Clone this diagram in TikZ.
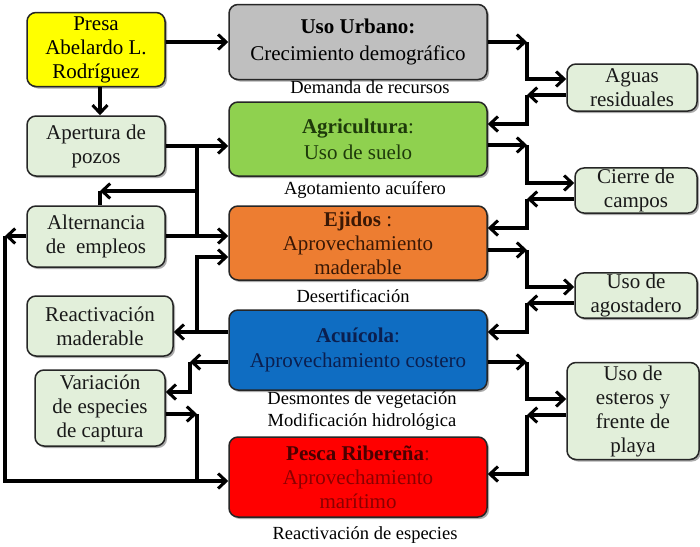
\documentclass[tikz,border=0pt]{standalone}
\usepackage{fontspec}
\setmainfont{Liberation Serif}
\usetikzlibrary{arrows.meta,shadows}
\definecolor{cgray}{HTML}{BFBFBF}
\definecolor{cgreen}{HTML}{8FD14F}
\definecolor{corange}{HTML}{ED7D31}
\definecolor{cblue}{HTML}{0F6DC2}
\definecolor{cred}{HTML}{FF0000}
\definecolor{cyellow}{HTML}{FFFF00}
\definecolor{clight}{HTML}{E2EFDA}
\definecolor{tgreen}{HTML}{1E3A0A}
\definecolor{tbrown}{HTML}{3A1805}
\definecolor{tnavy}{HTML}{0B1F4F}
\definecolor{tdred}{HTML}{4A0000}
\definecolor{tred}{HTML}{8A0000}
\tikzset{
  box/.style={draw=black!85, line width=1.5pt, rounded corners=9pt, align=center,
    inner sep=1pt, font=\fontsize{21}{24}\selectfont,
    drop shadow={shadow xshift=2pt, shadow yshift=-2pt, fill=black!60, opacity=0.55}},
  sidebox/.style={box, fill=clight, text=black!90},
  mainbox/.style={box, minimum width=258pt},
  lbl/.style={font=\fontsize{18.5}{22}\selectfont, align=center, inner sep=0pt},
  arr/.style={-{Straight Barb[length=8pt,width=15pt,line width=3pt]}},
  conn/.style={line width=3.3pt, line cap=butt}
}
\begin{document}
\begin{tikzpicture}[x=1pt,y=-1pt]
\useasboundingbox (0,0) rectangle (700,546);
\fill[white] (0,0) rectangle (700,546);
% left column
\node[box, fill=cyellow, minimum width=138pt, minimum height=74pt] (presa) at (96,49.5) {Presa\\Abelardo L.\\Rodríguez};
\node[sidebox, minimum width=138pt, minimum height=60pt] (apert) at (96,146) {Apertura de\\pozos};
\node[sidebox, minimum width=138pt, minimum height=61pt] (alt) at (96,236.5) {Alternancia\\de\ \ empleos};
\node[sidebox, minimum width=146pt, minimum height=60pt] (react) at (100,326) {Reactivación\\maderable};
\node[sidebox, minimum width=130pt, minimum height=76pt] (var) at (100,408) {Variación\\de especies\\de captura};
% main column
\node[mainbox, fill=cgray, minimum height=75pt, font=\fontsize{21}{27}\selectfont] (urb) at (358,42) {\textbf{Uso Urbano:}\\Crecimiento demográfico};
\node[mainbox, fill=cgreen, minimum height=74pt, text=tgreen, font=\fontsize{21}{26}\selectfont] (agri) at (358,139) {\textbf{Agricultura}:\\Uso de suelo};
\node[mainbox, fill=corange, minimum height=74pt, text=tbrown] (ejid) at (358,243) {\textbf{Ejidos} :\\Aprovechamiento\\maderable};
\node[mainbox, fill=cblue, minimum height=80pt, text=tnavy, font=\fontsize{21}{25}\selectfont] (acu) at (358,350) {\textbf{Acuícola}:\\Aprovechamiento costero};
\node[mainbox, fill=cred, minimum height=80pt, text=tred] (pesca) at (358,477) {{\color{tdred}\textbf{Pesca Ribereña}}:\\Aprovechamiento\\marítimo};
% labels
\node[lbl] (l1) at (370,87) {Demanda de recursos};
\node[lbl] (l2) at (365,190) {Agotamiento acuífero};
\node[lbl] (l3) at (353,296) {Desertificación};
\node[lbl] (l4) at (362,411) {Desmontes de vegetación\\Modificación hidrológica};
\node[lbl] (l5) at (365,535) {Reactivación de especies};
% right column
\node[sidebox, minimum width=130pt, minimum height=47pt] (aguas) at (632,87.5) {Aguas\\residuales};
\node[sidebox, minimum width=122pt, minimum height=45pt] (cierre) at (636,190.5) {Cierre de\\campos};
\node[sidebox, minimum width=122pt, minimum height=45pt] (agost) at (636,295.5) {Uso de\\agostadero};
\node[sidebox, minimum width=132pt, minimum height=97pt] (ester) at (633,411) {Uso de\\esteros y\\frente de\\playa};
% bus coordinates
\coordinate (bl1) at (197,146);
\coordinate (bl2) at (197,236);
\coordinate (bb) at (197,191);
\coordinate (ba) at (100,191);
\coordinate (lf1) at (5,236);
\coordinate (bl3) at (197,332);
\coordinate (ck) at (190,362);
\coordinate (bv) at (197,414);
\coordinate (bv2) at (197,481);
% left connectors
\begin{scope}[conn]
\draw[arr] (presa.east |- 0,42) -- (urb.west |- 0,42);
\draw[arr] (presa.south -| 100,0) -- (apert.north -| 100,0);
\draw[arr] (apert.east |- bl1) -- (agri.west |- bl1);
\draw (bl1) -- (bl2);
\draw[arr] (bb) -- (ba);
\draw (alt.north -| ba) -- (ba);
\draw[arr] (alt.east |- bl2) -- (ejid.west |- bl2);
\draw[arr] (alt.west |- lf1) -- (lf1);
\draw[arr] (lf1) |- (pesca.west |- bv2);
\draw[arr] (bl3) |- (ejid.west |- 0,257);
\draw[arr] (acu.west |- bl3) -- (react.east |- bl3);
\draw[arr] (acu.west |- ck) -- (ck);
\draw[arr] (ck) |- (var.east |- 0,392);
\draw[arr] (var.east |- bv) -- (bv);
\draw (bv) -- (bv2);
% right connectors
\draw[arr] (urb.east |- 0,42) -- (527,42);
\draw[arr] (527,42) |- (aguas.west |- 0,79);
\draw[arr] (aguas.west |- 0,95) -- (527,95);
\draw[arr] (527,95) |- (agri.east |- 0,124);
\draw[arr] (agri.east |- 0,145) -- (527,145);
\draw[arr] (527,145) |- (cierre.west |- 0,183);
\draw[arr] (cierre.west |- 0,199) -- (527,199);
\draw[arr] (527,199) |- (ejid.east |- 0,228);
\draw[arr] (ejid.east |- 0,250) -- (527,250);
\draw[arr] (527,250) |- (agost.west |- 0,287);
\draw[arr] (agost.west |- 0,303) -- (527,303);
\draw[arr] (527,303) |- (acu.east |- 0,332);
\draw[arr] (acu.east |- 0,362) -- (527,362);
\draw[arr] (527,362) |- (ester.west |- 0,399);
\draw[arr] (ester.west |- 0,415) -- (527,415);
\draw[arr] (527,415) |- (pesca.east |- 0,474);
\end{scope}
\end{tikzpicture}
\end{document}
